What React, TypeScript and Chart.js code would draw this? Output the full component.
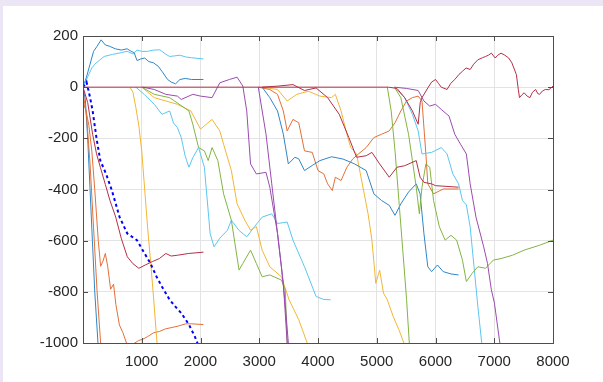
import React, { useEffect, useRef } from "react";
import { Chart, registerables } from "chart.js";

Chart.register(...registerables);

type P = [number, number];

const xTicks = [0, 1000, 2000, 3000, 4000, 5000, 6000, 7000, 8000];
const yTicks = [-1000, -800, -600, -400, -200, 0, 200];

const redMain: P[] = [[0,0],[5200,0],[5344,-5],[5475,-41],[5607,-93],[5705,-145],[5740,-60],[5770,-41],[5869,-3],[5934,20],[6000,30],[6050,15],[6098,0],[6197,-9],[6260,15],[6328,30],[6400,50],[6459,62],[6520,75],[6590,69],[6650,90],[6721,107],[6800,115],[6852,120],[6900,125],[6951,133],[7016,114],[7060,125],[7115,133],[7180,125],[7246,114],[7300,95],[7377,49],[7410,-10],[7430,-41],[7470,-30],[7508,-22],[7560,-35],[7607,-41],[7650,-20],[7705,-9],[7740,-25],[7770,-28],[7820,-15],[7869,-9],[7930,-10],[8000,4]];
const blueTop: P[] = [[0,0],[60,40],[120,90],[180,140],[240,160],[308,185],[380,165],[450,160],[550,150],[650,145],[750,150],[820,140],[870,135],[920,104],[980,110],[1050,114],[1120,100],[1200,95],[1280,82],[1350,60],[1440,30],[1500,20],[1575,13],[1650,30],[1740,34],[1850,30],[2050,30]];
const lightBlueTop: P[] = [[0,0],[80,40],[150,75],[200,90],[280,105],[360,120],[500,128],[650,135],[750,140],[850,130],[920,145],[1000,140],[1100,140],[1200,145],[1310,146],[1400,130],[1475,120],[1550,122],[1650,125],[1750,118],[1850,115],[2050,110]];
const blueSteep: P[] = [[0,0],[40,-50],[80,-200],[120,-400],[160,-600],[200,-800],[255,-1000],[270,-1100]];
const orangeSteep: P[] = [[0,-20],[60,-110],[120,-300],[180,-550],[240,-800],[300,-1000],[320,-1100]];
const orangeB: P[] = [[0,-60],[50,-90],[100,-150],[150,-250],[200,-400],[260,-600],[300,-700],[340,-680],[380,-650],[420,-700],[470,-790],[520,-770],[560,-850],[620,-930],[680,-960],[740,-1000],[800,-1010],[880,-1000],[950,-990],[1020,-985],[1100,-975],[1200,-960],[1300,-955],[1400,-945],[1500,-940],[1600,-935],[1750,-925],[1850,-925],[2050,-928]];
const redEarly: P[] = [[0,0],[80,-60],[164,-184],[230,-260],[295,-313],[380,-380],[459,-443],[557,-508],[650,-590],[754,-663],[850,-690],[950,-708],[1060,-695],[1180,-682],[1300,-670],[1410,-650],[1500,-660],[1607,-657],[1800,-650],[2050,-645]];
const blueDashed: P[] = [[0,0],[60,20],[120,-40],[164,-93],[230,-200],[295,-287],[393,-339],[492,-404],[623,-508],[754,-572],[918,-598],[1016,-637],[1148,-689],[1250,-740],[1344,-780],[1475,-831],[1580,-860],[1672,-883],[1803,-928],[1902,-974],[1948,-1000],[1980,-1050]];
const yellowA: P[] = [[800,0],[850,-20],[900,-80],[950,-150],[1000,-250],[1050,-400],[1100,-550],[1150,-680],[1200,-820],[1260,-1000],[1280,-1100]];
const lightBlueB: P[] = [[900,0],[1050,-30],[1213,-67],[1344,-106],[1475,-93],[1540,-140],[1607,-158],[1672,-197],[1740,-270],[1803,-313],[1870,-275],[1967,-236],[2066,-313],[2164,-572],[2230,-624],[2330,-590],[2459,-559],[2525,-520],[2656,-560],[2787,-585],[2920,-545],[3049,-508],[3213,-495],[3311,-533],[3475,-527],[3574,-598],[3770,-702],[3967,-818],[4100,-830],[4216,-831]];
const yellowB: P[] = [[1000,0],[1213,-41],[1410,-54],[1607,-67],[1836,-93],[2000,-164],[2197,-126],[2328,-171],[2393,-223],[2525,-326],[2623,-456],[2754,-520],[2852,-559],[2951,-545],[3049,-637],[3180,-702],[3377,-741],[3508,-831],[3672,-909],[3816,-1000],[3850,-1050]];
const greenA: P[] = [[1000,0],[1213,-28],[1475,-41],[1803,-93],[1869,-145],[1967,-236],[2066,-249],[2131,-287],[2197,-236],[2295,-287],[2393,-417],[2525,-520],[2656,-715],[2721,-689],[2852,-637],[2951,-689],[3049,-741],[3180,-734],[3377,-754],[3443,-792],[3475,-1000],[3480,-1100]];
const purpleA: P[] = [[1016,0],[1213,-9],[1410,-28],[1607,-35],[1672,-48],[1869,-28],[2000,-35],[2197,-41],[2328,17],[2492,30],[2623,39],[2721,4],[2787,-93],[2852,-300],[2951,-339],[3115,-333],[3180,-391],[3311,-572],[3377,-702],[3443,-850],[3495,-1000],[3510,-1100]];
const purpleB: P[] = [[2984,0],[3115,-184],[3213,-378],[3311,-572],[3410,-767],[3475,-1000],[3490,-1100]];
const blueC: P[] = [[3049,0],[3180,-41],[3311,-93],[3410,-184],[3495,-300],[3606,-274],[3672,-280],[3770,-326],[3902,-306],[4033,-287],[4230,-272],[4426,-281],[4623,-300],[4820,-326],[4951,-417],[5082,-443],[5213,-462],[5311,-501],[5410,-456],[5541,-410],[5672,-378],[5738,-417],[5803,-572],[5869,-702],[5934,-721],[6033,-695],[6131,-721],[6262,-730],[6393,-734]];
const orangeC: P[] = [[2984,0],[3180,-9],[3311,-28],[3410,-93],[3475,-171],[3574,-126],[3672,-139],[3770,-249],[3902,-255],[4000,-326],[4098,-339],[4164,-378],[4243,-404],[4295,-352],[4393,-365],[4492,-313],[4590,-281],[4689,-261],[4820,-236],[4951,-197],[5082,-184],[5213,-171],[5311,-139],[5410,-93],[5508,-54],[5607,-41],[5705,-35],[5770,-54],[5836,-261],[5869,-378],[5967,-417],[6131,-398],[6393,-398]];
const yellowC: P[] = [[3049,0],[3311,-9],[3475,-54],[3639,-28],[3836,-16],[4033,-35],[4230,-41],[4295,-28],[4393,-93],[4492,-184],[4557,-236],[4656,-261],[4721,-339],[4787,-417],[4852,-495],[4918,-598],[4984,-767],[5049,-715],[5115,-805],[5180,-831],[5279,-896],[5377,-948],[5462,-1000],[5500,-1050]];
const redC: P[] = [[3049,0],[3311,4],[3574,10],[3770,-13],[3967,-3],[4164,-41],[4361,-106],[4525,-197],[4656,-274],[4820,-268],[4918,-255],[5049,-300],[5213,-352],[5344,-313],[5475,-307],[5672,-287],[5738,-352],[5803,-372],[5934,-378],[6000,-385],[6393,-391]];
const purpleC: P[] = [[5300,0],[5508,-5],[5705,-13],[5803,-54],[5902,-74],[6000,-67],[6098,-87],[6230,-113],[6328,-184],[6426,-223],[6525,-261],[6590,-378],[6689,-508],[6820,-624],[6885,-689],[6951,-792],[7003,-844],[7049,-922],[7095,-1000],[7110,-1100]];
const lightBlueC: P[] = [[5300,0],[5475,-41],[5607,-106],[5705,-171],[5770,-261],[5934,-255],[6098,-236],[6197,-261],[6295,-339],[6393,-378],[6459,-443],[6525,-460],[6590,-546],[6656,-702],[6721,-857],[6787,-1000],[6800,-1100]];
const greenB: P[] = [[5180,0],[5246,-93],[5311,-249],[5377,-443],[5443,-637],[5508,-831],[5554,-1000],[5565,-1100]];
const greenC: P[] = [[5300,0],[5410,-41],[5541,-184],[5607,-287],[5672,-391],[5725,-495],[5770,-391],[5836,-300],[5902,-313],[5967,-443],[6066,-546],[6164,-598],[6262,-579],[6360,-598],[6459,-676],[6525,-760],[6623,-728],[6721,-702],[6852,-708],[6984,-676],[7115,-670],[7311,-657],[7508,-637],[7770,-618],[8000,-598]];

const BLUE = "#2f86c6";
const ORANGE = "#e27038";
const YELLOW = "#f2b635";
const PURPLE = "#9a4caf";
const GREEN = "#83b443";
const LBLUE = "#5cc6f0";
const DRED = "#b23048";

const seriesList: { name: string; pts: P[]; color: string; dash?: number[]; width?: number }[] = [
  { name: "redMain", pts: redMain, color: DRED },
  { name: "blueDashed", pts: blueDashed, color: "#0000ff", dash: [3, 3], width: 2 },
  { name: "redEarly", pts: redEarly, color: DRED },
  { name: "redC", pts: redC, color: DRED },
  { name: "purpleC", pts: purpleC, color: PURPLE },
  { name: "greenC", pts: greenC, color: GREEN },
  { name: "lightBlueC", pts: lightBlueC, color: LBLUE },
  { name: "greenB", pts: greenB, color: GREEN },
  { name: "blueC", pts: blueC, color: BLUE },
  { name: "orangeC", pts: orangeC, color: ORANGE },
  { name: "yellowC", pts: yellowC, color: YELLOW },
  { name: "purpleB", pts: purpleB, color: PURPLE },
  { name: "purpleA", pts: purpleA, color: PURPLE },
  { name: "greenA", pts: greenA, color: GREEN },
  { name: "yellowB", pts: yellowB, color: YELLOW },
  { name: "lightBlueB", pts: lightBlueB, color: LBLUE },
  { name: "yellowA", pts: yellowA, color: YELLOW },
  { name: "orangeB", pts: orangeB, color: ORANGE },
  { name: "orangeSteep", pts: orangeSteep, color: ORANGE },
  { name: "blueSteep", pts: blueSteep, color: BLUE },
  { name: "lightBlueTop", pts: lightBlueTop, color: LBLUE },
  { name: "blueTop", pts: blueTop, color: BLUE },
];

const frameTicks = {
  id: "frameTicks",
  afterDraw(chart: any) {
    const { ctx, chartArea: a, scales } = chart;
    ctx.save();
    ctx.strokeStyle = "#4d4d4d";
    ctx.lineWidth = 1;
    ctx.strokeRect(Math.round(a.left) + 0.5, Math.round(a.top) + 0.5, Math.round(a.right - a.left), Math.round(a.bottom - a.top));
    const L = 5;
    ctx.beginPath();
    for (const v of xTicks) {
      const x = Math.round(scales.x.getPixelForValue(v)) + 0.5;
      ctx.moveTo(x, a.bottom); ctx.lineTo(x, a.bottom - L);
      ctx.moveTo(x, a.top); ctx.lineTo(x, a.top + L);
    }
    for (const v of yTicks) {
      const y = Math.round(scales.y.getPixelForValue(v)) + 0.5;
      ctx.moveTo(a.left, y); ctx.lineTo(a.left + L, y);
      ctx.moveTo(a.right, y); ctx.lineTo(a.right - L, y);
    }
    ctx.stroke();
    ctx.restore();
  },
};

const tickFont = { family: "'Liberation Sans', Arial, sans-serif", size: 15 };

export default function App() {
  const ref = useRef<HTMLCanvasElement>(null);
  useEffect(() => {
    document.body.style.margin = "0";
    const chart = new Chart(ref.current as HTMLCanvasElement, {
      type: "line",
      data: {
        datasets: seriesList.map((s) => ({
          label: s.name,
          data: s.pts.map(([x, y]) => ({ x, y })),
          borderColor: s.color,
          borderWidth: s.width ?? 1,
          borderDash: s.dash ?? [],
          pointRadius: 0,
          fill: false,
          tension: 0,
        })),
      },
      options: {
        responsive: false,
        animation: false,
        layout: { padding: { top: 36, right: 50, left: 0, bottom: 0 } },
        plugins: { legend: { display: false }, tooltip: { enabled: false } },
        scales: {
          x: {
            type: "linear",
            min: 0,
            max: 8000,
            afterBuildTicks: (s: any) => { s.ticks = xTicks.map((v) => ({ value: v })); },
            afterFit: (s: any) => { s.height = 39; },
            ticks: {
              callback: (v: any) => (v === 0 ? "" : String(v)),
              color: "#262626",
              font: tickFont,
              padding: 10,
              maxRotation: 0,
            },
            grid: { color: "#e3e3e3", drawTicks: false },
            border: { display: false },
          },
          y: {
            type: "linear",
            min: -1000,
            max: 200,
            afterBuildTicks: (s: any) => { s.ticks = yTicks.map((v) => ({ value: v })); },
            afterFit: (s: any) => { s.width = 83; },
            ticks: {
              callback: (v: any) => String(v),
              color: "#262626",
              font: tickFont,
              padding: 5,
            },
            grid: { color: "#e3e3e3", drawTicks: false },
            border: { display: false },
          },
        },
      },
      plugins: [frameTicks],
    });
    return () => chart.destroy();
  }, []);
  return (
    <div style={{ position: "relative", width: 603, height: 382, background: "#ebe5f5", overflow: "hidden" }}>
      <div style={{ position: "absolute", left: 3, top: 6, right: 0, bottom: 0, background: "#ffffff" }} />
      <canvas ref={ref} width={603} height={382} style={{ position: "absolute", left: 0, top: 0 }} />
    </div>
  );
}
